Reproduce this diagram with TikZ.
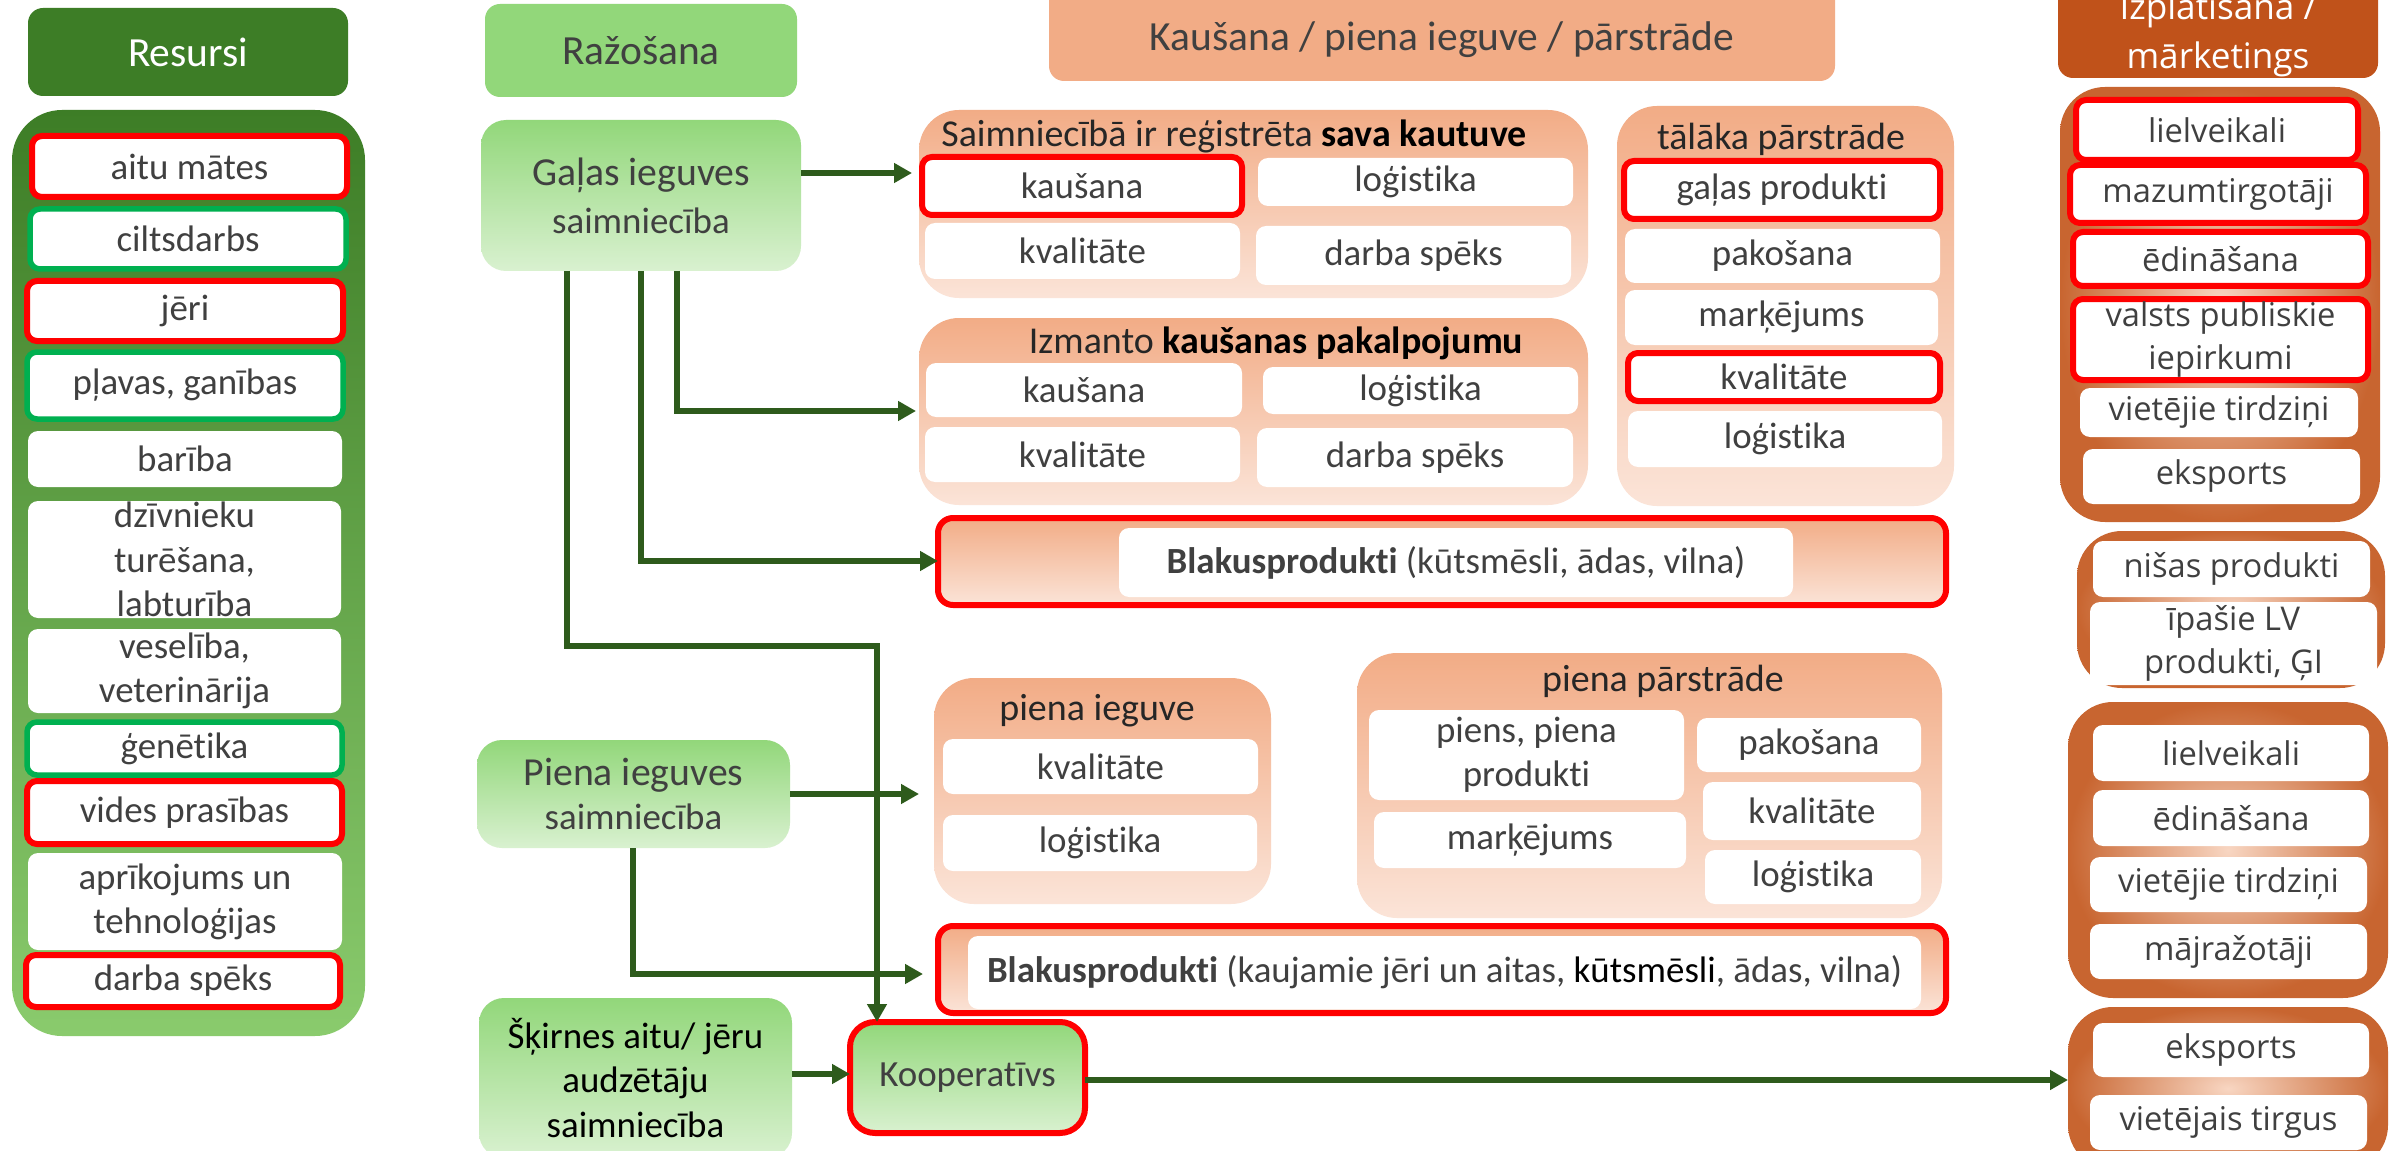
\documentclass[tikz,border=0pt]{standalone}
\usepackage{fontspec}
\setmainfont{Carlito}[Ligatures=NoCommon]
\newfontfamily\osans{Open Sans}[Ligatures=NoCommon]
\usetikzlibrary{arrows.meta}
\definecolor{txt}{HTML}{404040}
\definecolor{ttlc}{HTML}{262626}
\definecolor{dgreen}{HTML}{3D7D26}
\definecolor{lgreen}{HTML}{8ACB6D}
\definecolor{hgreen}{HTML}{92D77A}
\definecolor{pgreen}{HTML}{D9F1D0}
\definecolor{salmon}{HTML}{F2AC86}
\definecolor{psalmon}{HTML}{FBE4D8}
\definecolor{dorange}{HTML}{C0521A}
\definecolor{morange}{HTML}{C86530}
\definecolor{porange}{HTML}{F8D6C2}
\definecolor{bred}{HTML}{FF0000}
\definecolor{bgreen}{HTML}{00B050}
\definecolor{arrgreen}{HTML}{2E5B1C}
\newcommand\BX[7]{\node[#1, minimum width={(#5-#3)*0.1mm}, minimum height={(#6-#4)*0.1mm}] (#2) at ({(#3+#5)/2},{(#4+#6)/2}) {#7};}
\tikzset{
  box/.style={inner sep=0pt, outer sep=0pt, align=center, text=txt, font=\fontsize{10.5}{12.6}\selectfont},
  hdr/.style={box, font=\fontsize{11.8}{14}\selectfont},
  item/.style={box, fill=white, rounded corners=1mm},
  ritem/.style={item, draw=bred, line width=0.6mm},
  gitem/.style={item, draw=bgreen, line width=0.55mm},
  grp/.style={box, rounded corners=4mm, top color=salmon, bottom color=psalmon},
  ttl/.style={inner sep=0pt, outer sep=0pt, text=ttlc, font=\fontsize{10.8}{13}\selectfont},
  farm/.style={box, rounded corners=2.5mm, top color=hgreen, bottom color=pgreen},
  blak/.style={box, rounded corners=1.5mm, draw=bred, line width=0.6mm, top color=salmon, bottom color=psalmon},
  mgrp/.style={box, rounded corners=4.5mm, inner color=porange, outer color=morange},
  mitem/.style={item, font=\osans\fontsize{9.3}{12.2}\selectfont},
  mritem/.style={mitem, draw=bred, line width=0.6mm},
  arr/.style={draw=arrgreen, line width=0.52mm, -{Triangle[length=1.8mm,width=1.9mm]}},
}
\begin{document}
\begin{tikzpicture}[x=0.1mm,y=-0.1mm]
\path[use as bounding box, fill=white] (0,0) rectangle (2405,1151);

% ---------- Resursi ----------
\BX{hdr, fill=dgreen, text=white, rounded corners=1.5mm}{reshead}{28}{8}{348}{96}{Resursi}
\BX{box, rounded corners=5mm, top color=dgreen, bottom color=lgreen}{resbody}{12}{110}{365}{1036}{}
\BX{ritem}{r1}{32}{136}{347}{197}{aitu mātes}
\BX{gitem}{r2}{30}{209}{346}{269}{ciltsdarbs}
\BX{ritem}{r3}{27}{281}{343}{341}{jēri}
\BX{gitem}{r4}{27}{352}{343}{419}{pļavas, ganības}
\BX{item}{r5}{28}{431}{342}{487}{barība}
\BX{item}{r6}{28}{501}{341}{618}{dzīvnieku\\turēšana,\\labturība}
\BX{item}{r7}{28}{629}{341}{713}{veselība,\\veterinārija}
\BX{gitem}{r8}{27}{722}{342}{775}{ģenētika}
\BX{ritem}{r9}{27}{781}{342}{844}{vides prasības}
\BX{item}{r10}{28}{853}{342}{950}{aprīkojums un\\tehnoloģijas}
\BX{ritem}{r11}{26}{955}{340}{1007}{darba spēks}

% ---------- Ražošana ----------
\BX{hdr, fill=hgreen, rounded corners=1.5mm}{razhead}{485}{4}{797}{97}{Ražošana}
\BX{farm}{galas}{481}{120}{801}{271}{{\fontsize{11.3}{13}\selectfont Gaļas ieguves}\\[1pt]saimniecība}
\BX{farm}{piena}{477}{740}{790}{848}{{\fontsize{11.3}{13}\selectfont Piena ieguves}\\saimniecība}
\BX{farm, text=black}{skirnes}{479}{998}{792}{1158}{Šķirnes aitu/ jēru\\audzētāju\\saimniecība}
\BX{farm, draw=bred, line width=0.6mm}{koop}{850}{1022}{1085}{1133}{Kooperatīvs}

% ---------- Kaušana header ----------
\BX{hdr, fill=salmon, rounded corners=1.5mm}{kaushead}{1049}{-20}{1835}{81}{}
\node[hdr] (kaustxt) at (1442,40) {Kaušana / piena ieguve / pārstrāde};

% Saimniecībā group
\BX{grp}{saim}{919}{110}{1588}{298}{}
\node[ttl] (saimttl) at (1234,136) {Saimniecībā ir reģistrēta \textbf{\color{black}sava kautuve}};
\BX{ritem}{s1}{922}{157}{1242}{215}{kaušana}
\BX{item}{s2}{1258}{158}{1573}{206}{loģistika}
\BX{item}{s3}{925}{223}{1240}{279}{kvalitāte}
\BX{item}{s4}{1256}{226}{1571}{285}{darba spēks}

% Izmanto group
\BX{grp}{izm}{919}{318}{1588}{505}{}
\node[ttl] (izmttl) at (1276,343) {Izmanto \textbf{\color{black}kaušanas pakalpojumu}};
\BX{item}{i1}{926}{363}{1242}{417}{kaušana}
\BX{item}{i2}{1263}{367}{1578}{414}{loģistika}
\BX{item}{i3}{925}{427}{1240}{482}{kvalitāte}
\BX{item}{i4}{1257}{428}{1573}{487}{darba spēks}

% tālāka pārstrāde group
\BX{grp}{tal}{1617}{106}{1954}{506}{}
\node[ttl] (talttl) at (1781,139) {tālāka pārstrāde};
\BX{ritem}{t1}{1624}{161}{1940}{219}{gaļas produkti}
\BX{item}{t2}{1625}{229}{1940}{283}{pakošana}
\BX{item}{t3}{1625}{290}{1938}{345}{marķējums}
\BX{ritem}{t4}{1628}{353}{1940}{401}{kvalitāte}
\BX{item}{t5}{1628}{411}{1942}{467}{loģistika}

% Blakusprodukti 1
\BX{blak}{blak1}{938}{518}{1946}{605}{}
\BX{item}{blak1in}{1119}{528}{1793}{597}{\textbf{Blakusprodukti} (kūtsmēsli, ādas, vilna)}

% piena ieguve group
\BX{grp}{pig}{934}{678}{1271}{904}{}
\node[ttl] (pigttl) at (1097,711) {piena ieguve};
\BX{item}{p1}{943}{739}{1258}{794}{kvalitāte}
\BX{item}{p2}{943}{815}{1257}{871}{loģistika}

% piena pārstrāde group
\BX{grp}{ppr}{1357}{653}{1942}{918}{}
\node[ttl] (pprttl) at (1663,681) {piena pārstrāde};
\BX{item}{q1}{1369}{710}{1684}{800}{piens, piena\\produkti}
\BX{item}{q2}{1374}{812}{1686}{868}{marķējums}
\BX{item}{q3}{1697}{718}{1921}{772}{pakošana}
\BX{item}{q4}{1703}{782}{1921}{840}{kvalitāte}
\BX{item}{q5}{1705}{850}{1921}{904}{loģistika}

% Blakusprodukti 2
\BX{blak}{blak2}{938}{926}{1946}{1013}{}
\BX{item}{blak2in}{968}{936}{1921}{1009}{\textbf{Blakusprodukti} (kaujamie jēri un aitas, {\color{black}kūtsmēsli}, ādas, vilna)}

% ---------- Izplatīšana / mārketings ----------
\BX{box, fill=dorange, rounded corners=1.5mm}{izphead}{2058}{-40}{2378}{78}{}
\node[box, text=white, font=\osans\fontsize{10}{13.9}\selectfont] (izptxt) at (2218,35) {Izplatīšana /\\mārketings};

\BX{mgrp}{m1}{2060}{87}{2380}{522}{}
\BX{mritem}{m11}{2076}{100}{2358}{160}{lielveikali}
\BX{mritem}{m12}{2070}{165}{2366}{223}{mazumtirgotāji}
\BX{mritem}{m13}{2073}{232}{2368}{286}{ēdināšana}
\BX{mritem}{m14}{2073}{299}{2368}{380}{valsts publiskie\\iepirkumi}
\BX{mitem}{m15}{2080}{388}{2358}{437}{vietējie tirdziņi}
\BX{mitem}{m16}{2083}{449}{2360}{504}{eksports}

\BX{mgrp}{m2}{2077}{531}{2385}{688}{}
\BX{mitem}{m21}{2093}{541}{2370}{597}{nišas produkti}
\BX{mitem}{m22}{2090}{602}{2377}{685}{īpašie LV\\produkti, ĢI}

\BX{mgrp}{m3}{2068}{702}{2388}{998}{}
\BX{mitem}{m31}{2093}{725}{2369}{781}{lielveikali}
\BX{mitem}{m32}{2093}{790}{2369}{846}{ēdināšana}
\BX{mitem}{m33}{2090}{857}{2367}{912}{vietējie tirdziņi}
\BX{mitem}{m34}{2090}{924}{2367}{979}{mājražotāji}

\BX{mgrp}{m4}{2068}{1007}{2388}{1170}{}
\BX{mitem}{m41}{2093}{1023}{2369}{1077}{eksports}
\BX{mitem}{m42}{2090}{1095}{2367}{1150}{vietējais tirgus}

% ---------- connectors ----------
\coordinate (h173) at (0,173);
\coordinate (h411) at (0,411);
\coordinate (h561) at (0,561);
\coordinate (h646) at (0,646);
\coordinate (h794) at (0,794);
\coordinate (h974) at (0,974);
\coordinate (h1074) at (0,1074);
\coordinate (h1080) at (0,1080);
\coordinate (v567) at (567,0);
\coordinate (v633) at (633,0);
\coordinate (v641) at (641,0);
\coordinate (v677) at (677,0);
\coordinate (v877) at (877,0);

\draw[arr, shorten >=0.7mm] (galas.east |- h173) -- (saim.west |- h173);
\draw[arr, shorten >=0.3mm] (galas.south -| v677) |- (izm.west |- h411);
\draw[arr] (galas.south -| v641) |- (blak1.west |- h561);
\draw[arr] (galas.south -| v567) -- (v567 |- h646) -| (koop.north -| v877);
\draw[arr, shorten >=1.5mm] (piena.east |- h794) -- (pig.west |- h794);
\draw[arr, shorten >=1.5mm] (piena.south -| v633) |- (blak2.west |- h974);
\draw[arr] (skirnes.east |- h1074) -- (koop.west |- h1074);
\draw[arr] (koop.east |- h1080) -- (m4.west |- h1080);
\end{tikzpicture}
\end{document}
